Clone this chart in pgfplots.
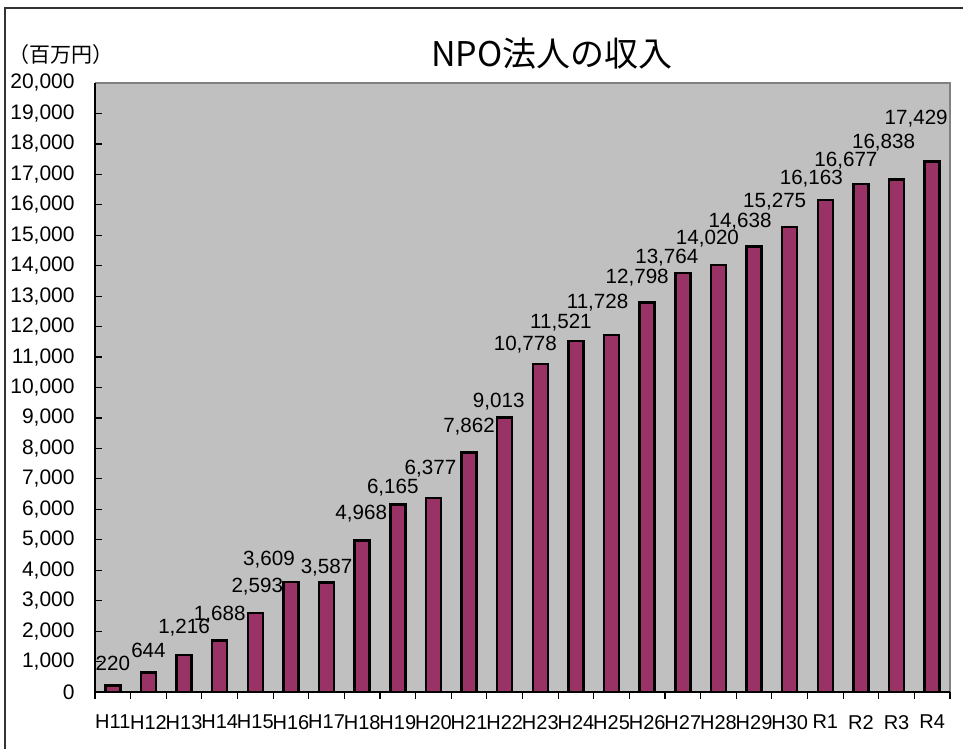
\documentclass[border=0pt]{standalone}
\usepackage{pgfplots}
\pgfplotsset{compat=1.18}
\usepackage{pgfplotstable}
\usepackage{fontspec}
\setmainfont{Liberation Sans}
\newfontfamily\cjk{Noto Sans CJK JP}
\definecolor{barc}{HTML}{993366}
\definecolor{bgc}{HTML}{C0C0C0}
\definecolor{frc}{HTML}{808080}

\pgfplotstableread{
x y dx dy
0 220 0 11
1 644 0 11
2 1216 0 13.5
3 1688 0 13
4 2593 1 13
5 3609 -11 11
6 3587 0 7.5
7 4968 -0.5 13.5
8 6165 -2.5 8.5
9 6377 -1.5 14.5
10 7862 0 13
11 9013 -3 8
12 10778 -7.5 9.5
13 11521 -7.5 9.5
14 11728 -7 16
15 12798 -5 12.5
16 13764 -8 7.5
17 14020 -5.5 13
18 14638 -7 12.5
19 15275 -7.5 12.5
20 16163 -7 10.5
21 16677 -7.5 12
22 16838 -6.5 18.5
23 17429 -8 21.5
}\datatable

\begin{document}
\begin{tikzpicture}
\useasboundingbox (0pt,0pt) rectangle (481.5pt,-374.5pt);
\draw[black!80, line width=0.8pt] (2.5pt,-374.5pt) -- (2.5pt,-4pt) -- (481.5pt,-4pt);
\node[anchor=base, font=\cjk\fontsize{17}{20}\selectfont] at (276pt,-33.5pt) {NPO法人の収入};
\node[anchor=center, font=\cjk\fontsize{10.5}{12}\selectfont] at (30.5pt,-27.5pt) {（百万円）};
\begin{axis}[
  at={(47.5pt,-346pt)}, anchor=south west,
  width=427.5pt, height=304.5pt, scale only axis,
  xmin=-0.5, xmax=23.5, ymin=0, ymax=20000,
  clip=false,
  axis line style={draw=none},
  axis background/.style={fill=bgc},
  /pgf/number format/.cd, 1000 sep={,}, assume math mode=true, /pgfplots/.cd,
  xtick={0,...,23},
  xticklabels={H11,H12,H13,H14,H15,H16,H17,H18,H19,H20,H21,H22,H23,H24,H25,H26,H27,H28,H29,H30,R1,R2,R3,R4},
  minor xtick={-0.5,0.5,...,23.5},
  major x tick style={draw=none},
  minor tick length=3.5pt,
  major tick length=3.5pt,
  tick align=inside,
  xtick pos=left, ytick pos=left,
  tick style={black, line width=0.6pt},
  ytick={0,1000,...,20000},
  scaled y ticks=false,
  xticklabel style={font=\fontsize{10}{12}\selectfont, anchor=north, inner sep=0pt, yshift=-7.9pt},
  yticklabel style={font=\fontsize{10.5}{12}\selectfont, anchor=east, inner sep=0pt, xshift=-10pt},
  ybar, bar width=7.5pt,
  point meta=y,
  nodes near coords={\pgfmathprintnumber{\pgfplotspointmeta}},
  visualization depends on={\thisrow{dx}\as\mydx},
  visualization depends on={\thisrow{dy}\as\mydy},
  nodes near coords style={font=\fontsize{10.3}{12}\selectfont, anchor=center, xshift=\mydx pt, yshift=\mydy pt, text=black},
]
\addplot[fill=barc, draw=black, line width=1.3pt] table[x=x, y=y] {\datatable};
\draw[frc, line width=1.2pt] (rel axis cs:0,1) -- (rel axis cs:1,1) -- (rel axis cs:1,0);
\draw[black, line width=0.8pt] (rel axis cs:0,1) -- (rel axis cs:0,0) -- (rel axis cs:1,0);
\end{axis}
\end{tikzpicture}
\end{document}
